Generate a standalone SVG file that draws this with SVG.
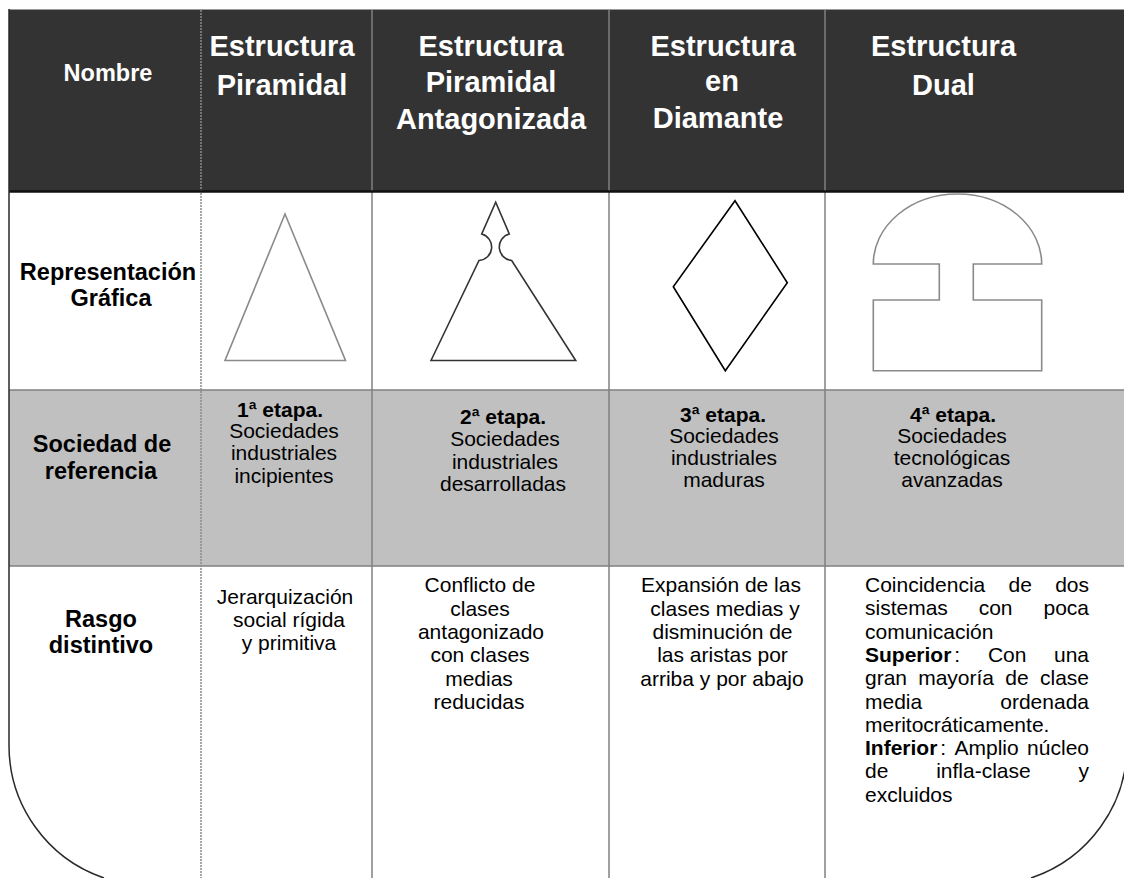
<svg xmlns="http://www.w3.org/2000/svg" width="1124" height="878" viewBox="0 0 1124 878">
<style>
.hd{font-family:"Liberation Sans",Arial,sans-serif;font-weight:bold;fill:#fff;font-size:29px;text-anchor:middle}
.lb{font-family:"Liberation Sans",Arial,sans-serif;font-weight:bold;fill:#000;font-size:23.5px;text-anchor:middle}
.tx{font-family:"Liberation Sans",Arial,sans-serif;fill:#000;font-size:21px;text-anchor:middle}
.jl{font-family:"Liberation Sans",Arial,sans-serif;fill:#000;font-size:21px}
.je{font-family:"Liberation Sans",Arial,sans-serif;fill:#000;font-size:21px;text-anchor:end}
.b{font-weight:bold}
.grid{stroke:#808080;stroke-width:1.5;fill:none}
.dot{stroke:#8a8a8a;stroke-width:1.5;stroke-dasharray:2 1;fill:none}
.edge{stroke:#2a2a2a;stroke-width:1.5;fill:none}
</style>
<rect x="0" y="0" width="1124" height="878" fill="#fff"/>
<g id="table">
<rect x="9" y="9" width="1115" height="183" fill="#333333"/>
<line x1="9" y1="9.5" x2="1124" y2="9.5" stroke="#9a9a9a" stroke-width="1"/>
<rect x="9" y="390" width="1115" height="176" fill="#c0c0c0"/>
<line class="grid" x1="9" y1="390" x2="1124" y2="390"/>
<line class="grid" x1="9" y1="566" x2="1124" y2="566"/>
<line class="dot" x1="201" y1="10" x2="201" y2="878"/>
<line class="grid" x1="372" y1="10" x2="372" y2="878"/>
<line class="grid" x1="609" y1="10" x2="609" y2="878"/>
<line class="grid" x1="825" y1="10" x2="825" y2="878"/>
<line x1="9" y1="191.5" x2="1124" y2="191.5" stroke="#111" stroke-width="2.5"/>
<path class="edge" d="M9 9 V745 A140 140 0 0 0 104 878" stroke-width="2"/>
<path class="edge" d="M1127 745 A140 140 0 0 1 1031 878"/>
</g>
<g id="row-nombre">
<text class="lb" x="108" y="81" style="fill:#fff">Nombre</text>
</g>
<g id="col-piramidal">
<text class="hd" x="282" y="56">Estructura</text>
<text class="hd" x="282" y="95">Piramidal</text>
</g>
<g id="col-antagonizada">
<text class="hd" x="491" y="56">Estructura</text>
<text class="hd" x="491" y="92">Piramidal</text>
<text class="hd" x="491" y="128.5">Antagonizada</text>
</g>
<g id="col-diamante">
<text class="hd" x="723" y="56">Estructura</text>
<text class="hd" x="722" y="91">en</text>
<text class="hd" x="718" y="128">Diamante</text>
</g>
<g id="col-dual">
<text class="hd" x="943.5" y="56">Estructura</text>
<text class="hd" x="943.5" y="95">Dual</text>
</g>
<g id="row-representacion">
<text class="lb" x="108" y="280">Representación</text>
<text class="lb" x="111" y="306">Gráfica</text>
</g>
<g id="shape-piramidal">
<polygon points="285,214 225,360.5 345.5,360.5" fill="none" stroke="#8a8a8a" stroke-width="1.6"/>
</g>
<g id="shape-antagonizada">
<path d="M431 360.5 L479 260.5 A13.5 13.5 0 0 0 481.7 234 L495.7 202.3 L509.3 234 A13.5 13.5 0 0 0 511.7 260.5 L575.7 360.5 Z" fill="none" stroke="#333" stroke-width="1.6"/>
</g>
<g id="shape-diamante">
<polygon points="735,200.7 787.3,282.7 725.3,370.7 673.3,286.7" fill="none" stroke="#000" stroke-width="1.6"/>
</g>
<g id="shape-dual">
<path d="M873.3 264 A84.2 70 0 0 1 1041.7 264 H973.3 V300 H1041.7 V370.7 H873.3 V300 H939.3 V264 Z" fill="none" stroke="#8a8a8a" stroke-width="1.6"/>
</g>
<g id="row-sociedad">
<text class="lb" x="102" y="452">Sociedad de</text>
<text class="lb" x="101" y="479">referencia</text>
</g>
<g id="soc-1">
<text class="tx" x="280" y="417"><tspan class="b">1ª etapa.</tspan></text>
<text class="tx" x="284" y="438">Sociedades</text>
<text class="tx" x="284" y="460">industriales</text>
<text class="tx" x="284" y="483">incipientes</text>
</g>
<g id="soc-2">
<text class="tx" x="503" y="424"><tspan class="b">2ª etapa.</tspan></text>
<text class="tx" x="505" y="446">Sociedades</text>
<text class="tx" x="505" y="469">industriales</text>
<text class="tx" x="503" y="491">desarrolladas</text>
</g>
<g id="soc-3">
<text class="tx" x="723" y="422"><tspan class="b">3ª etapa.</tspan></text>
<text class="tx" x="724" y="443">Sociedades</text>
<text class="tx" x="724" y="465">industriales</text>
<text class="tx" x="724" y="487">maduras</text>
</g>
<g id="soc-4">
<text class="tx" x="953" y="422"><tspan class="b">4ª etapa.</tspan></text>
<text class="tx" x="952" y="443">Sociedades</text>
<text class="tx" x="952" y="465">tecnológicas</text>
<text class="tx" x="952" y="487">avanzadas</text>
</g>
<g id="row-rasgo">
<text class="lb" x="101" y="627">Rasgo</text>
<text class="lb" x="101" y="653">distintivo</text>
</g>
<g id="rasgo-1">
<text class="tx" x="285" y="604">Jerarquización</text>
<text class="tx" x="289" y="627">social rígida</text>
<text class="tx" x="289" y="650">y primitiva</text>
</g>
<g id="rasgo-2">
<text class="tx" x="480" y="592">Conflicto de</text>
<text class="tx" x="480" y="615.5">clases</text>
<text class="tx" x="481" y="639">antagonizado</text>
<text class="tx" x="480" y="662">con clases</text>
<text class="tx" x="479" y="686">medias</text>
<text class="tx" x="479" y="709">reducidas</text>
</g>
<g id="rasgo-3">
<text class="tx" x="721" y="592">Expansión de las</text>
<text class="tx" x="725" y="615.5">clases medias y</text>
<text class="tx" x="722.5" y="639">disminución de</text>
<text class="tx" x="722.5" y="662">las aristas por</text>
<text class="tx" x="722" y="686">arriba y por abajo</text>
</g>
<g id="rasgo-4">
<text class="jl" x="865" y="592">Coincidencia</text><text class="jl" x="1008.5" y="592">de</text><text class="je" x="1089" y="592">dos</text>
<text class="jl" x="865" y="615.3">sistemas</text><text class="jl" x="978.7" y="615.3">con</text><text class="je" x="1089" y="615.3">poca</text>
<text class="jl" x="865" y="638.6">comunicación</text>
<text class="jl" x="865" y="662"><tspan class="b">Superior</tspan><tspan dx="3">:</tspan></text><text class="jl" x="987.9" y="662">Con</text><text class="je" x="1089" y="662">una</text>
<text class="jl" x="865" y="685.2">gran</text><text class="jl" x="918.2" y="685.2">mayoría</text><text class="jl" x="1005.3" y="685.2">de</text><text class="je" x="1089" y="685.2">clase</text>
<text class="jl" x="865" y="708.5">media</text><text class="je" x="1089" y="708.5">ordenada</text>
<text class="jl" x="865" y="731.8">meritocráticamente.</text>
<text class="jl" x="865" y="755"><tspan class="b">Inferior</tspan><tspan dx="3">:</tspan></text><text class="jl" x="954.5" y="755">Amplio</text><text class="je" x="1089" y="755">núcleo</text>
<text class="jl" x="865" y="778.4">de</text><text class="jl" x="936.2" y="778.4">infla-clase</text><text class="je" x="1089" y="778.4">y</text>
<text class="jl" x="865" y="801.7">excluidos</text>
</g>
</svg>
